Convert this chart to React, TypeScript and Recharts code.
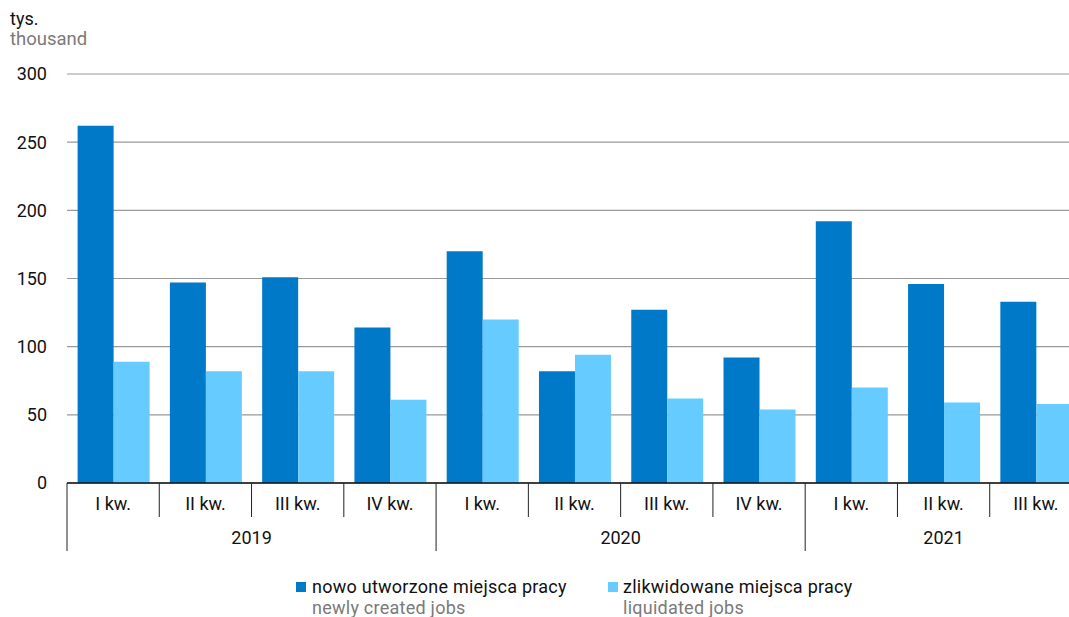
import React from 'react';
import { BarChart, Bar, XAxis, YAxis, CartesianGrid } from 'recharts';

const quarters = ['I kw.', 'II kw.', 'III kw.', 'IV kw.', 'I kw.', 'II kw.', 'III kw.', 'IV kw.', 'I kw.', 'II kw.', 'III kw.'];
const years = ['2019', '2019', '2019', '2019', '2020', '2020', '2020', '2020', '2021', '2021', '2021'];
const newlyCreated = [262, 147, 151, 114, 170, 82, 127, 92, 192, 146, 133];
const liquidated = [89, 82, 82, 61, 120, 94, 62, 54, 70, 59, 58];
const yTicks = [0, 50, 100, 150, 200, 250, 300];

const data = quarters.map((q, i) => ({
  key: `${years[i]}-${q}`,
  q,
  year: years[i],
  created: newlyCreated[i],
  liquidated: liquidated[i],
}));

const CHART_W = 1083;
const CHART_H = 617;
const M_TOP = 74;
const M_RIGHT = 1;
const Y_W = 67;
const X_H = 134;
const PLOT_BOTTOM = CHART_H - X_H;
const BW = (CHART_W - M_RIGHT - Y_W) / quarters.length;
const FONT = 'Roboto, "Noto Sans", sans-serif';

const DARK = '#0079C8';
const LIGHT = '#66CCFF';

const XTick = (props: any) => {
  const { x, index } = props;
  const i = index as number;
  const firstOfYear = i === 0 || years[i] !== years[i - 1];
  const left = x - BW / 2;
  let yearLabel: React.ReactNode = null;
  if (firstOfYear) {
    let count = 0;
    while (i + count < years.length && years[i + count] === years[i]) count++;
    yearLabel = (
      <text x={left + (count * BW) / 2} y={PLOT_BOTTOM + 61} textAnchor="middle" fontSize={18} fontFamily={FONT} fill="#111">
        {years[i]}
      </text>
    );
  }
  return (
    <g>
      <line x1={left} x2={left} y1={PLOT_BOTTOM} y2={firstOfYear ? PLOT_BOTTOM + 68 : PLOT_BOTTOM + 34} stroke="#222" strokeWidth={1} />
      <text x={x} y={PLOT_BOTTOM + 27} textAnchor="middle" fontSize={18} fontFamily={FONT} fill="#111">
        {quarters[i]}
      </text>
      {yearLabel}
    </g>
  );
};

const legendText: React.CSSProperties = { position: 'absolute', fontSize: 18, lineHeight: '21px', letterSpacing: 0.25, whiteSpace: 'nowrap' };

export default function App() {
  return (
    <div style={{ position: 'absolute', left: 0, top: 0, width: 1069, height: 617, overflow: 'hidden', background: '#fff', fontFamily: FONT }}>
      <div style={{ position: 'absolute', left: 10, top: 8, fontSize: 18, lineHeight: '21px', color: '#111' }}>tys.</div>
      <div style={{ position: 'absolute', left: 10, top: 29, fontSize: 18.5, lineHeight: '21px', color: '#7a7a7a' }}>thousand</div>
      <div style={{ position: 'absolute', left: 0, top: 0 }}>
        <BarChart
          width={CHART_W}
          height={CHART_H}
          data={data}
          margin={{ top: M_TOP, right: M_RIGHT, left: 0, bottom: 0 }}
          barCategoryGap="11.5%"
          barGap={0}
        >
          <CartesianGrid vertical={false} stroke="#9a9a9a" strokeWidth={1.2} />
          <YAxis
            width={Y_W}
            domain={[0, 300]}
            ticks={yTicks}
            axisLine={false}
            tickLine={false}
            tickMargin={14}
            tick={{ fontSize: 18, fontFamily: FONT, fill: '#111' }}
            interval={0}
          />
          <XAxis
            dataKey="key"
            height={X_H}
            interval={0}
            tickLine={false}
            axisLine={{ stroke: '#111', strokeWidth: 1.5 }}
            tick={<XTick />}
          />
          <Bar dataKey="created" fill={DARK} isAnimationActive={false} />
          <Bar dataKey="liquidated" fill={LIGHT} isAnimationActive={false} />
        </BarChart>
      </div>
      <div style={{ position: 'absolute', left: 296, top: 582, width: 10, height: 10, background: DARK }} />
      <div style={{ ...legendText, left: 312, top: 576, color: '#111' }}>nowo utworzone miejsca pracy</div>
      <div style={{ ...legendText, left: 312, top: 597, color: '#7a7a7a' }}>newly created jobs</div>
      <div style={{ position: 'absolute', left: 608, top: 582, width: 10, height: 10, background: LIGHT }} />
      <div style={{ ...legendText, left: 623, top: 576, color: '#111' }}>zlikwidowane miejsca pracy</div>
      <div style={{ ...legendText, left: 623, top: 597, color: '#7a7a7a' }}>liquidated jobs</div>
    </div>
  );
}
